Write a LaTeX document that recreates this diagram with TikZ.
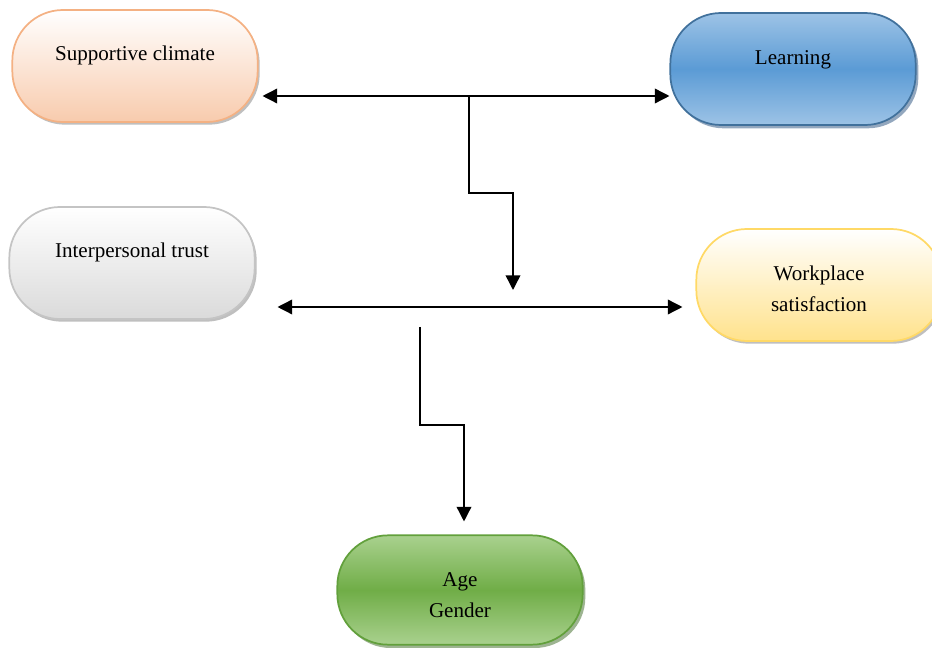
\documentclass[tikz,border=0pt]{standalone}
\usepackage{fontspec}
\setmainfont{Liberation Serif}
\usetikzlibrary{arrows.meta, positioning, calc, shadows}
\definecolor{climateline}{RGB}{244, 177, 131}
\definecolor{climatefill}{RGB}{248, 203, 173}
\definecolor{learnline}{RGB}{65, 113, 156}
\definecolor{learnmid}{RGB}{91, 155, 213}
\definecolor{learnlight}{RGB}{157, 195, 230}
\definecolor{learnshadow}{RGB}{40, 80, 125}
\definecolor{trustline}{RGB}{196, 196, 196}
\definecolor{trustfill}{RGB}{218, 218, 218}
\definecolor{workline}{RGB}{255, 217, 102}
\definecolor{workfill}{RGB}{255, 226, 140}
\definecolor{ageline}{RGB}{98, 160, 60}
\definecolor{agemid}{RGB}{112, 173, 71}
\definecolor{agelight}{RGB}{169, 209, 142}
\definecolor{ageshadow}{RGB}{60, 105, 35}
\tikzset{
    pill/.style={draw, rectangle, rounded corners=38pt, minimum width=184pt, minimum height=84pt, line width=1.3pt},
    softshadow/.style={drop shadow={shadow xshift=1.5pt, shadow yshift=-2pt, fill=black, opacity=0.25}},
    climatebox/.style={pill, softshadow, draw=climateline, top color=white, bottom color=climatefill},
    learnbox/.style={pill, draw=learnline, drop shadow={shadow xshift=2pt, shadow yshift=-2.5pt, fill=learnshadow}, top color=learnlight, bottom color=learnlight, middle color=learnmid},
    trustbox/.style={pill, softshadow, draw=trustline, top color=white, bottom color=trustfill},
    workbox/.style={pill, softshadow, draw=workline, top color=white, bottom color=workfill},
    agebox/.style={pill, draw=ageline, drop shadow={shadow xshift=2pt, shadow yshift=-2.5pt, fill=ageshadow}, top color=agelight, bottom color=agelight, middle color=agemid},
    boxtext/.style={font=\fontsize{15.8}{23}\selectfont, align=center, inner sep=0pt},
    linkarrow/.style={-{Triangle[length=11pt, width=11pt]}, line width=1.1pt},
    botharrow/.style={{Triangle[length=11pt, width=11pt]}-{Triangle[length=11pt, width=11pt]}, line width=1.1pt},
}
\begin{document}
\begin{tikzpicture}[x=0.75pt, y=-0.75pt]
    \useasboundingbox (0,0) rectangle (932,648);

    % Boxes
    \node[climatebox] (supp) at (135,66) {};
    \node[learnbox] (learn) at (793,69) {};
    \node[trustbox] (trust) at (132,263) {};
    \node[workbox] (work) at (819,285) {};
    \node[agebox, minimum height=82pt] (age) at (460,590) {};

    % Texts
    \node[boxtext] (supptext) at ([yshift=8.25pt]supp.center) {Supportive climate};
    \node[boxtext] (learntext) at ([yshift=6.75pt]learn.center) {Learning};
    \node[boxtext] (trusttext) at ([yshift=8.25pt]trust.center) {Interpersonal trust};
    \node[boxtext] (worktext) at ([yshift=-3pt]work.center) {Workplace\\satisfaction};
    \node[boxtext] (agetext) at ([yshift=-3.75pt]age.center) {Age\\Gender};

    % Links
    \coordinate (split1) at (469,96);
    \coordinate (drop1) at (513,290);
    \coordinate (row2) at (480,307);
    \coordinate (split2) at (420,327);

    \draw[botharrow, shorten <=3pt] (supp.east |- split1) -- (learn.west |- split1);
    \draw[linkarrow] (split1) -- ++(0,97) -| (drop1);
    \draw[botharrow, shorten <=16.5pt, shorten >=9.75pt] (trust.east |- row2) -- (work.west |- row2);
    \draw[linkarrow, shorten >=9.75pt] (split2) -- ++(0,98) -| ([xshift=3pt]age.north);
\end{tikzpicture}
\end{document}
